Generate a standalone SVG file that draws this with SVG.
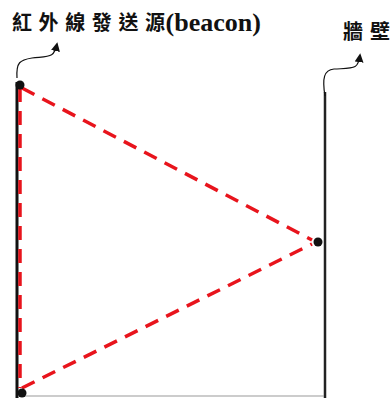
<svg xmlns="http://www.w3.org/2000/svg" width="390" height="398" viewBox="0 0 390 398">
<defs>
<style>
.lbl{font-family:"Noto Sans CJK TC","Liberation Serif",serif;font-weight:bold;fill:#111}
.dash{stroke:#e8141c;stroke-width:3.5;stroke-dasharray:14 9;fill:none}
.call{stroke:#111;stroke-width:1.2;fill:none}
.dot{fill:#111}
</style>
<marker id="ah" viewBox="0 0 10 10" refX="8" refY="5" markerWidth="9" markerHeight="9" orient="auto" markerUnits="userSpaceOnUse">
<path d="M0,0 L10,5 L0,10 z" fill="#111"/>
</marker>
</defs>
<rect width="390" height="398" fill="#fff"/>
<g id="walls">
<line x1="17" y1="82" x2="17" y2="398" stroke="#111" stroke-width="3"/>
<line x1="325" y1="92" x2="325" y2="398" stroke="#222" stroke-width="2.5"/>
<line x1="18" y1="396" x2="324" y2="396" stroke="#999" stroke-width="1"/>
</g>
<g id="connectors">
<path class="dash" d="M20,88 L20,388"/>
<path class="dash" d="M22,88 L312,240"/>
<path class="dash" d="M22,388 L312,244"/>
<path class="call" marker-end="url(#ah)" d="M17,78 C16,62 20,60 32,58 C50,56 54,58 57,44"/>
<path class="call" marker-end="url(#ah)" d="M325,96 C322,78 324,70 334,69 C354,68 358,70 360,55"/>
</g>
<g id="beacon-top"><circle class="dot" cx="20" cy="85" r="4.5"/></g>
<g id="beacon-right"><circle class="dot" cx="318" cy="242" r="4.5"/></g>
<g id="beacon-bottom"><circle class="dot" cx="22" cy="393" r="4.5"/></g>
<g id="label-beacon"><text class="lbl" x="12" y="30" font-size="20" letter-spacing="6.6">紅外線發送源<tspan dx="-6" y="31" font-family="Liberation Serif" font-size="26" letter-spacing="0">(beacon)</tspan></text></g>
<g id="label-wall"><text class="lbl" x="343" y="39" font-size="20" letter-spacing="7">牆壁</text></g>
</svg>
